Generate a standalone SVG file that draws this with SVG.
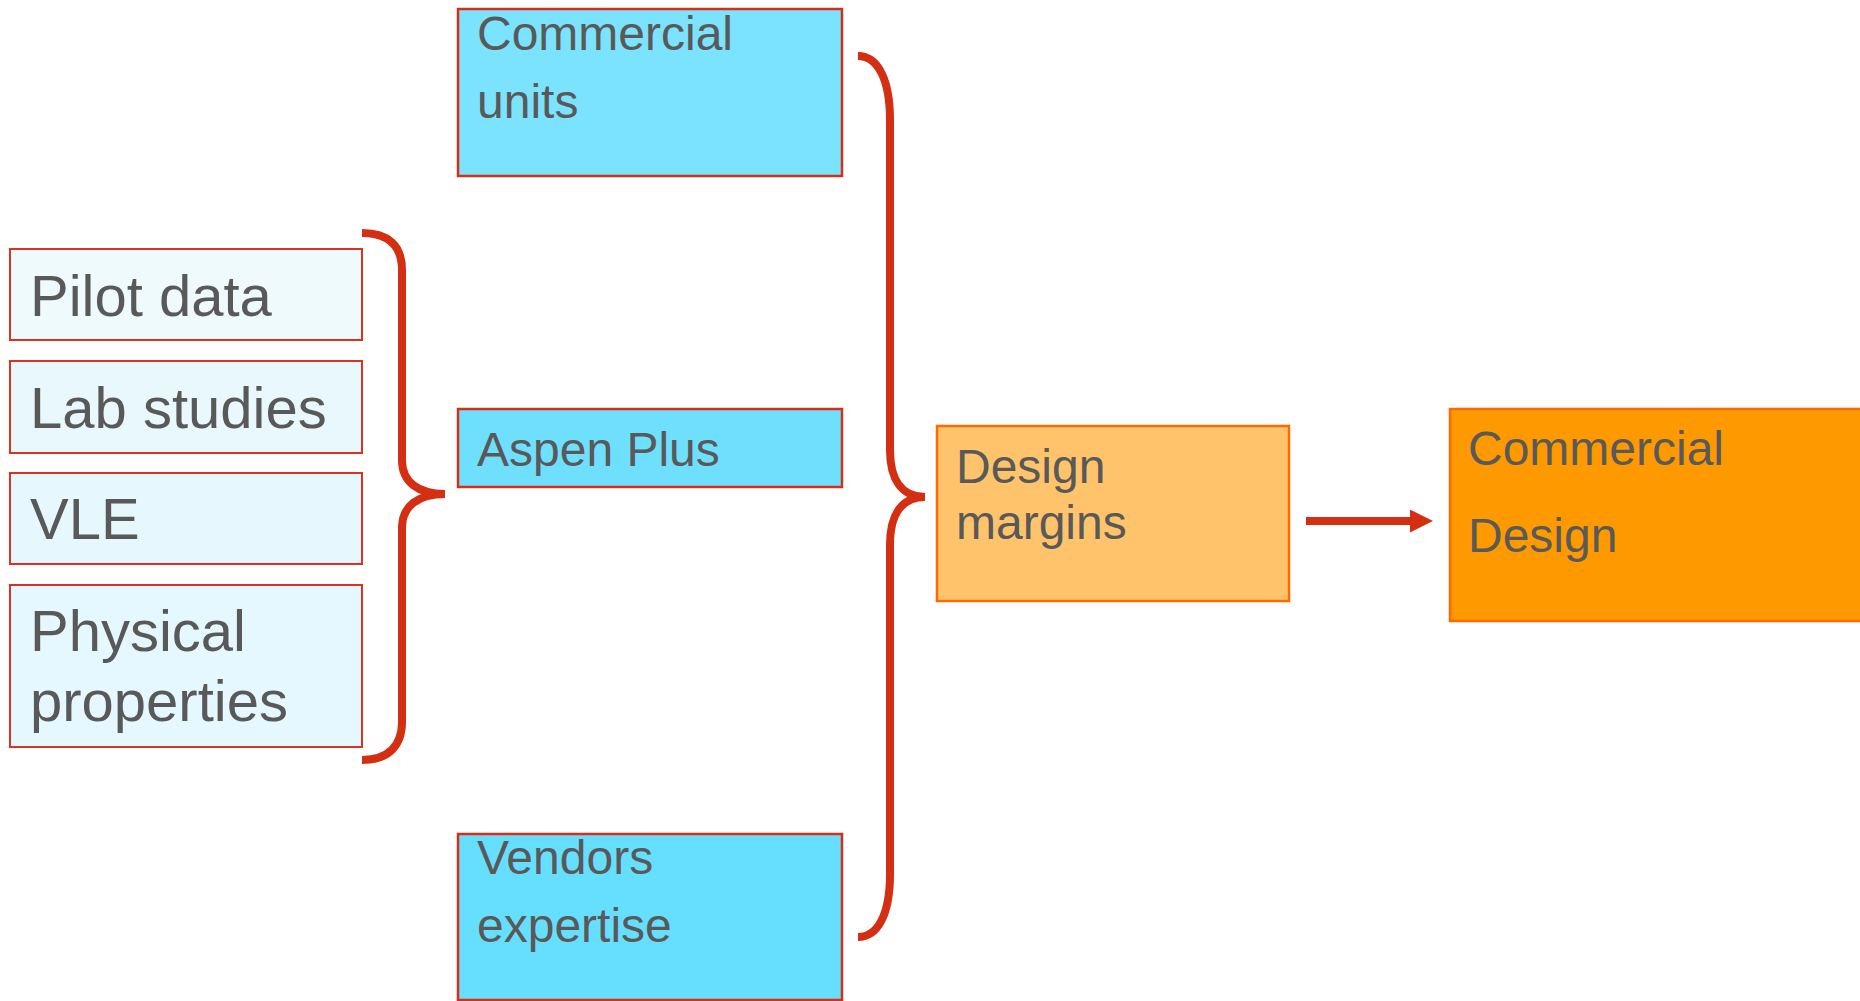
<svg xmlns="http://www.w3.org/2000/svg" width="1860" height="1001" viewBox="0 0 1860 1001">
<defs>
<style>
text{font-family:"Liberation Sans",Arial,sans-serif;fill:#595959}
.big{font-size:58px}
.mid{font-size:48px}
.lb{stroke:#DA3320;stroke-width:2}
.cb{stroke:#D52F17;stroke-width:2.5}
.ob{stroke:#FF6A00;stroke-width:2.5}
.brace{fill:none;stroke:#D42F13;stroke-width:8;stroke-linecap:butt}
</style>
<marker id="ah" markerWidth="24" markerHeight="24" refX="0" refY="11.5" orient="auto" markerUnits="userSpaceOnUse">
<path d="M0,0 L23,11.5 L0,23 Z" fill="#D42F13"/>
</marker>
</defs>
<rect width="1860" height="1001" fill="#fff"/>
<g id="connectors">
<path class="brace" d="M362,233 C388,233 402,245 402,270 L402,460 C402,482 418,494 445,494 C418,494 402,506 402,528 L402,722 C402,746 388,760 362,760"/>
<path class="brace" d="M858,56 C878,56 890,80 890,120 L890,450 C890,480 902,497 925,497 C902,497 890,514 890,545 L890,874 C890,914 878,937 858,937"/>
<line x1="1306" y1="521" x2="1410" y2="521" stroke="#D42F13" stroke-width="8" marker-end="url(#ah)"/>
</g>
<g id="pilot">
<rect class="lb" x="10" y="249" width="352" height="91" fill="#EFFAFC"/>
<text class="big" x="30" y="316">Pilot data</text>
</g>
<g id="lab">
<rect class="lb" x="10" y="361" width="352" height="92" fill="#E8F8FD"/>
<text class="big" x="30" y="428">Lab studies</text>
</g>
<g id="vle">
<rect class="lb" x="10" y="473" width="352" height="91" fill="#E6F8FE"/>
<text class="big" x="30" y="539">VLE</text>
</g>
<g id="physical">
<rect class="lb" x="10" y="585" width="352" height="162" fill="#E6F8FF"/>
<text class="big" x="30" y="651">Physical</text>
<text class="big" x="30" y="721">properties</text>
</g>
<g id="commercial-units">
<rect class="cb" x="458" y="9" width="384" height="167" fill="#7BE3FD"/>
<text class="mid" x="477" y="50">Commercial</text>
<text class="mid" x="477" y="118">units</text>
</g>
<g id="aspen">
<rect class="cb" x="458" y="409" width="384" height="78" fill="#6EE0FE"/>
<text class="mid" x="477" y="466">Aspen Plus</text>
</g>
<g id="vendors">
<rect class="cb" x="458" y="834" width="384" height="166" fill="#66DFFE"/>
<text class="mid" x="477" y="874">Vendors</text>
<text class="mid" x="477" y="942">expertise</text>
</g>
<g id="design-margins">
<rect class="ob" x="937" y="426" width="352" height="175" fill="#FFC36B"/>
<text class="mid" x="956" y="483">Design</text>
<text class="mid" x="956" y="539">margins</text>
</g>
<g id="commercial-design">
<rect class="ob" x="1450" y="409" width="420" height="212" fill="#FF9900"/>
<text class="mid" x="1468" y="465">Commercial</text>
<text class="mid" x="1468" y="552">Design</text>
</g>
</svg>
